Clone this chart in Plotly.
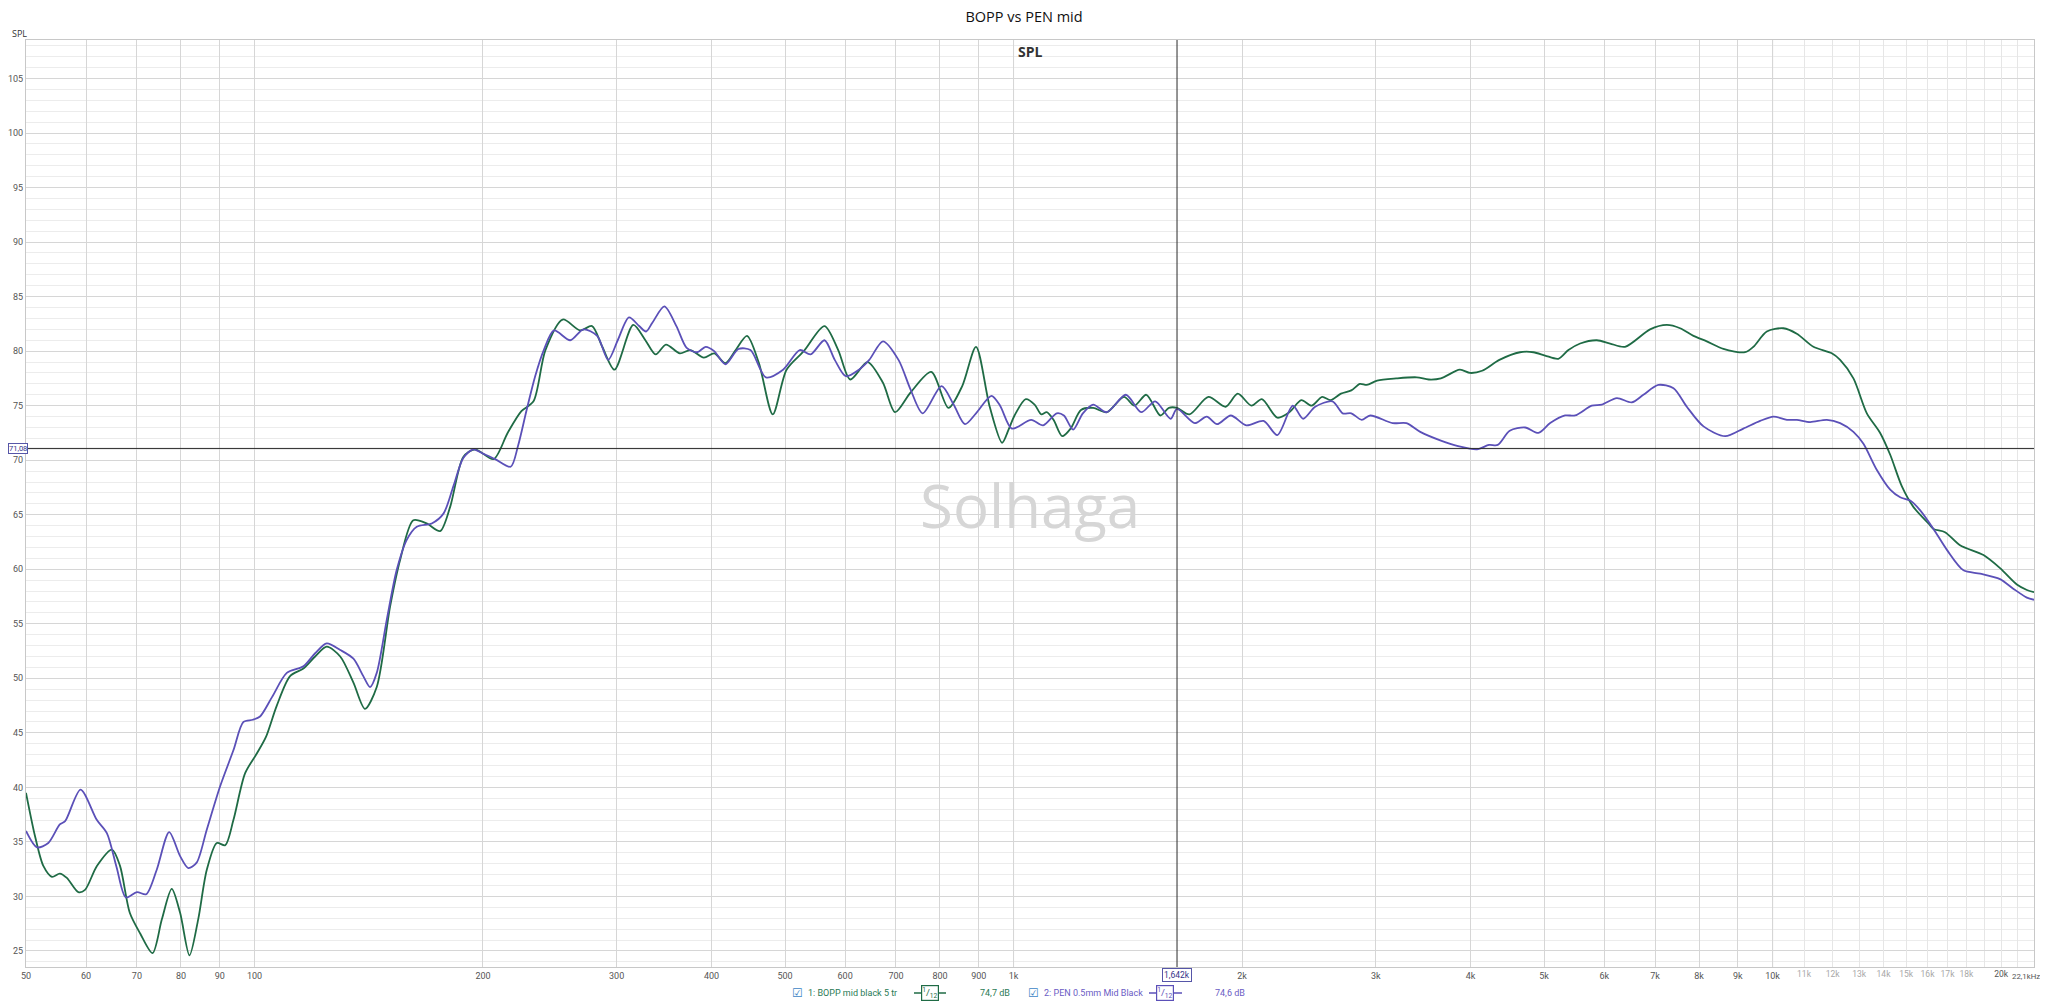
import math
import plotly.graph_objects as go

# ---------------- data ----------------
title_text = "BOPP vs PEN mid"
name_bopp = "1: BOPP mid black 5 tr"
name_pen = "2: PEN 0.5mm Mid Black"
level_bopp = "74,7 dB"
level_pen = "74,6 dB"

freq_bopp = [50, 51.4, 52.7, 54.1, 55.4, 56.6, 58.6, 59.8, 62.0, 64.9, 66.5, 68.5, 70.7, 73.4, 75.5,
             77.8, 79.8, 82.1, 84.3, 86.5, 89.2, 91.5, 93.8, 97.2, 100.7, 103.5, 107.0, 111.4, 116.0,
             120.2, 124.5, 129.7, 135.0, 139.8, 144.9, 150.9, 155.6, 161.9, 168.6, 175.6, 181.0, 188.4,
             195.2, 206.5, 215.5, 224.7, 233.1, 241.7, 254.7, 268.5, 278.4, 287.2, 298.0, 315.5, 327.3,
             337.7, 348.4, 363.4, 375.0, 390.8, 403.3, 417.2, 429.5, 445.5, 461.9, 481.7, 502.3, 529.2,
             563.5, 587.5, 609.4, 642.1, 672.9, 698.1, 731.5, 779.0, 820.8, 855.8, 892.4, 930.3, 966,
             985, 1003, 1038, 1066, 1088, 1106, 1129, 1159, 1189, 1227, 1273, 1327, 1398, 1443, 1496,
             1561, 1602, 1642, 1705, 1806, 1903, 1974, 2058, 2124, 2226, 2309, 2394, 2471, 2550, 2617,
             2700, 2786, 2860, 2920, 3013, 3192, 3398, 3524, 3656, 3872, 3994, 4143, 4366, 4648, 4841,
             5015, 5221, 5383, 5578, 5867, 6108, 6391, 6896, 7255, 7553, 7866, 8191, 8614, 9197, 9434,
             9826, 10335, 10762, 11319, 11967, 12274, 12779, 13310, 13858, 14287, 14803, 15335, 16046,
             16291, 16871, 17658, 18960, 19937, 20981, 21628, 22100]
spl_bopp = [39.5, 35.5, 32.8, 31.8, 32.1, 31.7, 30.4, 30.6, 32.8, 34.3, 32.8, 28.5, 26.6, 24.8, 27.9,
            30.7, 28.5, 24.6, 27.9, 32.4, 34.9, 34.7, 37.0, 41.3, 43.1, 44.6, 47.5, 50.2, 50.9,
            52.0, 52.9, 52.0, 49.6, 47.2, 49.2, 56.6, 60.9, 64.5, 64.2, 63.5, 65.7, 70.3,
            71.0, 70.1, 72.5, 74.5, 75.4, 80.1, 82.9, 81.9, 82.3, 80.4, 78.3, 82.4, 81.0,
            79.7, 80.6, 79.8, 80.1, 79.4, 79.8, 78.9, 80.0, 81.4, 78.9, 74.2, 78.3, 80.0,
            82.3, 80.1, 77.4, 79.0, 77.1, 74.4, 76.2, 78.1, 74.8, 76.8, 80.4, 74.9, 71.6,
            72.8, 74.1, 75.6, 75.1, 74.2, 74.4, 73.7, 72.2, 72.9, 74.6, 74.8, 74.4, 75.8, 75.0, 76.0,
            74.1, 74.8, 74.8, 74.2, 75.8, 74.9, 76.1, 75.0, 75.6, 73.9, 74.4, 75.5, 75.0, 75.8, 75.5,
            76.1, 76.4, 77.0, 76.9, 77.3, 77.5, 77.6, 77.4, 77.5, 78.3, 78.0, 78.2, 79.2, 79.9, 79.9,
            79.6, 79.3, 80.1, 80.7, 81.0, 80.7, 80.4, 82.0, 82.4, 82.1, 81.4, 80.9, 80.2, 79.9, 80.4,
            81.8, 82.1, 81.6, 80.4, 79.8, 79.2, 77.5, 74.3, 72.5, 70.5, 67.6, 65.7, 64.2,
            63.7, 63.4, 62.2, 61.3, 60.1, 58.6, 58.1, 57.9]

freq_pen = [50, 51.7, 53.5, 55.4, 56.3, 59.0, 62.0, 63.9, 65.8, 67.7, 70.0, 72.0, 74.3, 77.2, 79.8,
            81.8, 83.9, 86.5, 90.1, 93.8, 96.7, 99.5, 101.7, 105.5, 110.3, 116.0, 120.2, 124.5, 129.7,
            135.0, 139.1, 142.0, 144.9, 149.4, 153.9, 158.7, 163.6, 171.2, 177.4, 182.8, 188.4, 194.2,
            200, 207.5, 217.5, 222.4, 228.3, 234.3, 240.5, 248.1, 260.6, 271.3, 282.8, 292.4, 301.0,
            311.4, 321.2, 328.0, 334.3, 346.7, 359.6, 371.0, 383.0, 393.0, 403.3, 417.2, 434.1, 450.2,
            471.8, 497, 522.8, 540.3, 563.5, 581.4, 601.2, 625.6, 645.5, 672.9, 705.4, 731.5, 759.0,
            803.8, 833.8, 862.9, 892.4, 935.2, 960, 995, 1055, 1094, 1140, 1165, 1198, 1234, 1273,
            1327, 1406, 1473, 1537, 1610, 1642, 1733, 1797, 1854, 1933, 2026, 2135, 2226, 2333, 2407,
            2497, 2631, 2714, 2786, 2875, 2951, 3158, 3293, 3434, 3656, 3852, 4079, 4231, 4344, 4505,
            4721, 4915, 5093, 5329, 5493, 5778, 5957, 6235, 6522, 6757, 7072, 7404, 7709, 8109, 8660,
            9151, 9629, 10028, 10444, 10762, 11205, 11790, 12274, 12779, 13173, 13721, 14287, 14727,
            15182, 15649, 16291, 16960, 17843, 18772, 19937, 20770, 21628, 22100]
spl_pen = [36.0, 34.5, 34.9, 36.6, 36.9, 39.8, 37.0, 35.8, 32.7, 29.9, 30.4, 30.2, 32.4, 35.9, 33.7,
           32.6, 33.1, 36.1, 40.1, 43.4, 46.0, 46.2, 46.5, 48.3, 50.5, 51.1, 52.3, 53.2, 52.6,
           51.8, 50.2, 49.2, 50.5, 55.4, 59.9, 62.7, 63.9, 64.2, 65.1, 67.6, 70.2, 71.0,
           70.6, 70.1, 69.4, 71.3, 74.6, 77.7, 80.1, 81.9, 81.0, 82.0, 81.4, 79.2, 81.0,
           83.1, 82.3, 81.8, 82.6, 84.1, 82.3, 80.3, 79.9, 80.4, 80.0, 78.8, 80.2, 80.1,
           77.6, 78.3, 80.1, 79.7, 81.0, 79.2, 77.7, 78.3, 79.2, 80.9, 79.2, 76.5, 74.3,
           76.8, 75.1, 73.3, 74.3, 75.9, 75.0, 72.9, 73.7, 73.2, 74.3, 74.1, 72.8, 74.3, 75.1,
           74.4, 76.0, 74.4, 75.4, 73.8, 74.7, 73.4, 74.0, 73.3, 74.1, 73.2, 73.6, 72.3, 75.0, 73.8,
           74.9, 75.4, 74.3, 74.3, 73.7, 74.1, 73.4, 73.4, 72.6, 71.8, 71.3, 71.0, 71.4, 71.4, 72.7,
           73.0, 72.5, 73.4, 74.1, 74.1, 75.0, 75.1, 75.7, 75.3, 76.0, 76.9, 76.6, 74.9, 73.1, 72.2,
           72.9, 73.6, 74.0, 73.7, 73.7, 73.5, 73.7, 73.4, 72.6, 71.5, 69.1, 67.3, 66.6,
           66.3, 65.4, 63.7, 61.8, 59.9, 59.6, 59.1, 58.2, 57.4, 57.2]

x_tick_vals = [50, 60, 70, 80, 90, 100, 200, 300, 400, 500, 600, 700, 800, 900,
               1000, 2000, 3000, 4000, 5000, 6000, 7000, 8000, 9000, 10000]
x_tick_text = ["50", "60", "70", "80", "90", "100", "200", "300", "400", "500", "600", "700", "800", "900",
               "1k", "2k", "3k", "4k", "5k", "6k", "7k", "8k", "9k", "10k"]
hi_tick_vals = [11000, 12000, 13000, 14000, 15000, 16000, 17000, 18000, 20000]
hi_tick_text = ["11k", "12k", "13k", "14k", "15k", "16k", "17k", "18k", "20k"]
hi_minor_vals = [19000, 21000]
end_label = "22,1kHz"
decade_vals = [100, 1000, 10000]
y_tick_vals = list(range(25, 110, 5))

cursor_freq = 1642
cursor_level = 71.08
cursor_freq_text = "1,642k"
cursor_level_text = "71,08"

freq_min, freq_max = 50, 22100
spl_min, spl_max = 23.53, 108.53

# ---------------- styling / layout ----------------
OFF = 8                      # default page margin of the html body
W, H = 2048 - OFF, 1002 - OFF
L, R, T, B = 26 - OFF, 14, 40 - OFF, 35
PW, PH = W - L - R, H - T - B

GREEN = "#1f6b45"
PURPLE = "#5b50b8"
GREEN_TXT = "#2a7a55"
PURPLE_TXT = "#6a5cc4"
FONT = "Liberation Sans Narrow, Roboto, Open Sans, sans-serif"
UI_FONT = "Open Sans, Noto Sans, sans-serif"


def pxx(x):
    """page x pixel -> paper coordinate"""
    return (x - OFF - L) / PW


def pxy(y):
    """page y pixel -> paper coordinate"""
    return (H - B - (y - OFF)) / PH


fig = go.Figure()
fig.add_trace(go.Scatter(x=freq_bopp, y=spl_bopp, mode="lines", name=name_bopp,
                         line=dict(color=GREEN, width=1.8, shape="spline", smoothing=0.8),
                         showlegend=False))
fig.add_trace(go.Scatter(x=freq_pen, y=spl_pen, mode="lines", name=name_pen,
                         line=dict(color=PURPLE, width=1.8, shape="spline", smoothing=0.8),
                         showlegend=False))
# empty trace to anchor the overlay axis that carries the >10k labels
fig.add_trace(go.Scatter(x=[], y=[], xaxis="x2", showlegend=False, hoverinfo="skip"))

xrange = [math.log10(freq_min), math.log10(freq_max)]

hi_text = []
for v, t in zip(hi_tick_vals, hi_tick_text):
    if v <= 18000:
        hi_text.append('<span style="color:#a8a8a8">' + t + "</span>")
    else:
        hi_text.append(t)

fig.update_layout(
    width=W, height=H,
    margin=dict(l=L, r=R, t=T, b=B, autoexpand=False),
    paper_bgcolor="white", plot_bgcolor="white",
    title=dict(text=title_text, x=(1024 - OFF) / W, xanchor="center", y=1 - (17 - OFF) / H,
               yanchor="middle", yref="container",
               font=dict(family=UI_FONT, size=14.5, color="#111")),
    xaxis=dict(type="log", range=xrange, tickvals=x_tick_vals, ticktext=x_tick_text,
               showgrid=True, gridcolor="#d6d6d6", gridwidth=1, zeroline=False,
               showline=True, linecolor="#c8c8c8", mirror=True, ticks="",
               tickfont=dict(family=FONT, size=9, color="#555")),
    xaxis2=dict(type="log", range=xrange, overlaying="x", side="bottom", anchor="y",
                tickvals=hi_tick_vals, ticktext=hi_text, showgrid=True, gridcolor="#e6e6e6",
                gridwidth=1, zeroline=False, showline=False, ticks="",
                tickfont=dict(family=FONT, size=8.5, color="#555"),
                minor=dict(tickvals=hi_minor_vals, showgrid=True, gridcolor="#e6e6e6", ticks="")),
    yaxis=dict(range=[spl_min, spl_max], tickvals=y_tick_vals, showgrid=True, gridcolor="#d6d6d6",
               gridwidth=1, zeroline=False, showline=True, linecolor="#c8c8c8", mirror=True,
               ticks="", tickfont=dict(family=FONT, size=9, color="#555"),
               minor=dict(dtick=1, showgrid=True, gridcolor="#ececec", gridwidth=1)),
    showlegend=False,
)

shapes = []
for d in decade_vals:
    shapes.append(dict(type="line", xref="x", yref="paper", x0=d, x1=d, y0=0, y1=1,
                       layer="between", line=dict(color="#b8b8b8", width=1)))
shapes.append(dict(type="line", xref="x", yref="paper", x0=cursor_freq, x1=cursor_freq, y0=0, y1=1,
                   layer="above", line=dict(color="#2b2b2b", width=1)))
shapes.append(dict(type="line", xref="paper", yref="y", x0=0, x1=1, y0=cursor_level, y1=cursor_level,
                   layer="above", line=dict(color="#2b2b2b", width=1)))

annotations = []
# axis title "SPL" top-left and bold header
annotations.append(dict(text="SPL", xref="paper", yref="paper", x=pxx(19), y=pxy(33),
                        xanchor="center", yanchor="middle", showarrow=False,
                        font=dict(family=UI_FONT, size=9, color="#333")))
annotations.append(dict(text="<b>SPL</b>", xref="paper", yref="paper", x=pxx(1030), y=pxy(52),
                        xanchor="center", yanchor="middle", showarrow=False,
                        font=dict(family=UI_FONT, size=14, color="#333")))
# end-of-axis label
annotations.append(dict(text=end_label, xref="paper", yref="paper", x=pxx(2042), y=pxy(976),
                        xanchor="right", yanchor="middle", showarrow=False,
                        font=dict(family=FONT, size=7.8, color="#555")))
# watermark
annotations.append(dict(text="Solhaga", xref="paper", yref="paper", x=pxx(1030), y=pxy(505),
                        xanchor="center", yanchor="middle", showarrow=False,
                        font=dict(family=UI_FONT, size=60, color="#d6d6d6")))
# cursor read-outs
annotations.append(dict(text=cursor_level_text, xref="paper", yref="y", x=pxx(28), y=cursor_level,
                        xanchor="right", yanchor="middle", showarrow=False,
                        bgcolor="white", bordercolor="#5656a8", borderwidth=1, borderpad=0,
                        font=dict(family=FONT, size=7.5, color="#35358a")))
annotations.append(dict(text=cursor_freq_text, xref="x", yref="paper", x=math.log10(cursor_freq),
                        y=pxy(975), xanchor="center", yanchor="middle", showarrow=False,
                        bgcolor="white", bordercolor="#5656a8", borderwidth=1, borderpad=1,
                        font=dict(family=FONT, size=8.5, color="#35358a")))

# custom legend row
LY = pxy(993)
legend_items = [
    (797, 806, 930, 914, 946, 978, name_bopp, level_bopp, GREEN, GREEN_TXT),
    (1033, 1042, 1165, 1149, 1182, 1213, name_pen, level_pen, PURPLE, PURPLE_TXT),
]
for cb, tx, ic, l0, l1, lv, nm, val, col, tcol in legend_items:
    annotations.append(dict(text="☑", xref="paper", yref="paper", x=pxx(cb), y=LY,
                            xanchor="center", yanchor="middle", showarrow=False,
                            font=dict(family="DejaVu Sans", size=12, color="#3d86c6")))
    annotations.append(dict(text=nm, xref="paper", yref="paper", x=pxx(tx), y=LY,
                            xanchor="left", yanchor="middle", showarrow=False,
                            font=dict(family=FONT, size=9, color=tcol)))
    shapes.append(dict(type="line", xref="paper", yref="paper", x0=pxx(l0), x1=pxx(l1),
                       y0=LY, y1=LY, layer="above", line=dict(color=col, width=1.5)))
    annotations.append(dict(text="<sup>1</sup>/<sub>12</sub>", xref="paper", yref="paper",
                            x=pxx(ic), y=LY, xanchor="center", yanchor="middle", showarrow=False,
                            bgcolor="white", bordercolor=col, borderwidth=1.2, borderpad=0,
                            font=dict(family=FONT, size=9.5, color=col)))
    annotations.append(dict(text=val, xref="paper", yref="paper", x=pxx(lv), y=LY,
                            xanchor="left", yanchor="middle", showarrow=False,
                            font=dict(family=FONT, size=9, color=tcol)))

fig.update_layout(shapes=shapes, annotations=annotations)
fig.write_html("out.html")
